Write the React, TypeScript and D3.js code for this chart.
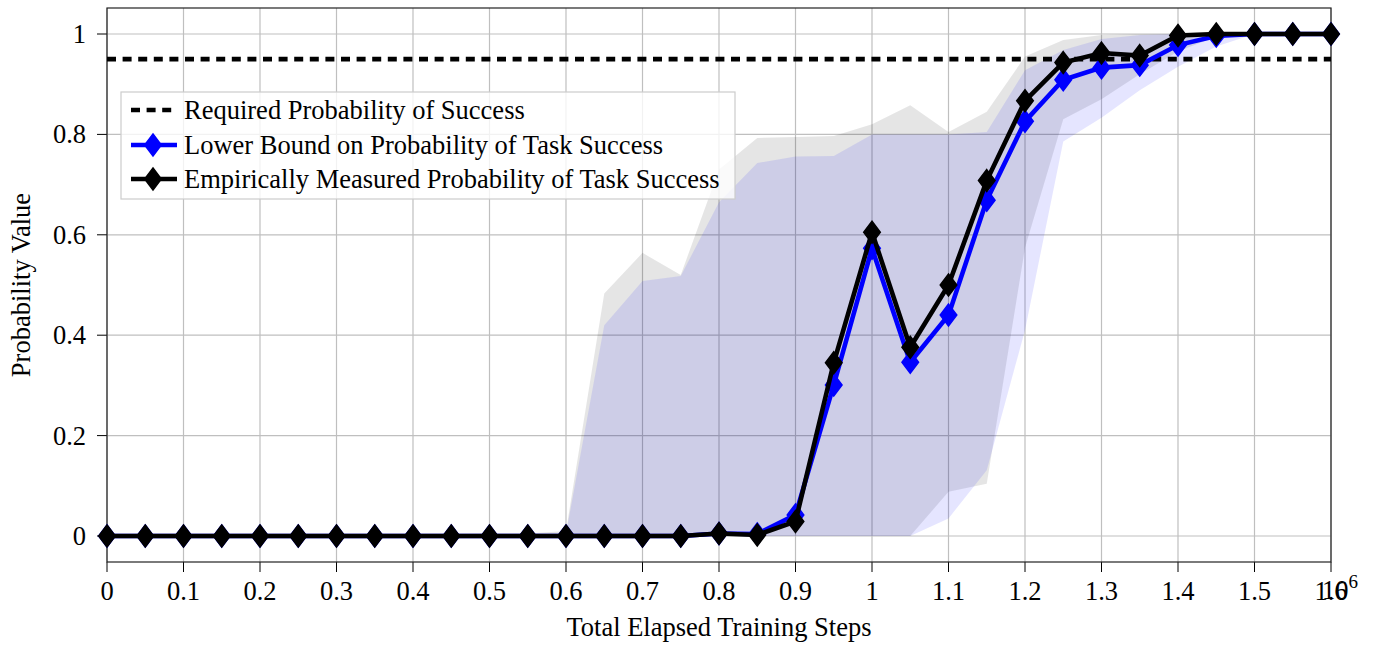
import React from "react";
import * as d3 from "d3";

// ---- data ----
const trainingSteps = [
  0, 50000, 100000, 150000, 200000, 250000, 300000, 350000, 400000, 450000,
  500000, 550000, 600000, 650000, 700000, 750000, 800000, 850000, 900000,
  950000, 1000000, 1050000, 1100000, 1150000, 1200000, 1250000, 1300000,
  1350000, 1400000, 1450000, 1500000, 1550000, 1600000,
];
const empiricalProb = [
  0, 0, 0, 0, 0, 0, 0, 0, 0, 0, 0, 0, 0, 0, 0, 0,
  0.005, 0.002, 0.029, 0.345, 0.605, 0.376, 0.5, 0.708, 0.867, 0.943, 0.962,
  0.957, 0.997, 1, 1, 1, 1,
];
const lowerBoundProb = [
  0, 0, 0, 0, 0, 0, 0, 0, 0, 0, 0, 0, 0, 0, 0, 0,
  0.005, 0.004, 0.042, 0.301, 0.573, 0.346, 0.44, 0.669, 0.826, 0.909, 0.933,
  0.938, 0.978, 0.996, 1, 1, 1,
];
const empiricalBandUpper = [
  0, 0, 0, 0, 0, 0, 0, 0, 0, 0, 0,
  0.005, 0.01, 0.483, 0.564, 0.52, 0.73, 0.793, 0.795, 0.797, 0.82, 0.858,
  0.805, 0.845, 0.955, 0.988, 0.998, 1, 1, 1, 1, 1, 1,
];
const empiricalBandLower = [
  0, 0, 0, 0, 0, 0, 0, 0, 0, 0, 0, 0, 0, 0, 0, 0, 0, 0, 0, 0, 0, 0,
  0.088, 0.104, 0.574, 0.83, 0.87, 0.92, 0.965, 0.995, 1, 1, 1,
];
const boundBandUpper = [
  0, 0, 0, 0, 0, 0, 0, 0, 0, 0, 0, 0,
  0.005, 0.42, 0.508, 0.518, 0.665, 0.743, 0.756, 0.757, 0.8, 0.8, 0.8,
  0.805, 0.928, 0.968, 0.99, 0.998, 1, 1, 1, 1, 1,
];
const boundBandLower = [
  0, 0, 0, 0, 0, 0, 0, 0, 0, 0, 0, 0, 0, 0, 0, 0, 0, 0, 0, 0, 0, 0,
  0.035, 0.131, 0.41, 0.786, 0.833, 0.888, 0.935, 0.975, 1, 1, 1,
];
const requiredProb = 0.95;
const xTickValues = [
  0, 100000, 200000, 300000, 400000, 500000, 600000, 700000, 800000, 900000,
  1000000, 1100000, 1200000, 1300000, 1400000, 1500000, 1600000,
];
const xTickLabels = [
  "0", "0.1", "0.2", "0.3", "0.4", "0.5", "0.6", "0.7", "0.8", "0.9",
  "1", "1.1", "1.2", "1.3", "1.4", "1.5", "1.6",
];
const yTickValues = [0, 0.2, 0.4, 0.6, 0.8, 1];
const yTickLabels = ["0", "0.2", "0.4", "0.6", "0.8", "1"];
const legendLabels = [
  "Required Probability of Success",
  "Lower Bound on Probability of Task Success",
  "Empirically Measured Probability of Task Success",
];

const W = 1376;
const H = 645;
const FONT = "'Liberation Serif', 'Times New Roman', serif";

export default function App() {
  const left = 107, right = 1331, top = 8, bottom = 562;
  const x = d3.scaleLinear().domain([0, 1600000]).range([left, right]);
  const y = d3.scaleLinear().domain([-0.0518, 1.0518]).range([bottom, top]);

  const idx = trainingSteps.map((_, i) => i);
  const bandArea = (lo: number[], hi: number[]) =>
    d3.area<number>()
      .x((i) => x(trainingSteps[i]))
      .y0((i) => y(lo[i]))
      .y1((i) => y(hi[i]))(idx) || "";
  const linePath = (vals: number[]) =>
    d3.line<number>()
      .x((i) => x(trainingSteps[i]))
      .y((i) => y(vals[i]))(idx) || "";

  const diamond = (cx: number, cy: number, hw = 8.3, hh = 11) =>
    `M${cx},${cy - hh}L${cx + hw},${cy}L${cx},${cy + hh}L${cx - hw},${cy}Z`;

  const series = [
    { vals: lowerBoundProb, color: "#0000ff" },
    { vals: empiricalProb, color: "#000000" },
  ];

  const gridColor = "#bfbfbf";
  const fs = 26.5;

  const legX = 121, legY = 92, legW = 614, legH = 107;
  const rowY = [110, 145, 179];

  return (
    <div style={{ position: "absolute", left: 0, top: 0 }}>
      <svg width={W} height={H} style={{ display: "block", background: "#fff" }} fontFamily={FONT}>
        {/* grid */}
        {xTickValues.map((v) => (
          <line key={"gx" + v} x1={x(v)} x2={x(v)} y1={top} y2={bottom} stroke={gridColor} strokeWidth={1.2} />
        ))}
        {yTickValues.map((v) => (
          <line key={"gy" + v} x1={left} x2={right} y1={y(v)} y2={y(v)} stroke={gridColor} strokeWidth={1.2} />
        ))}

        {/* bands */}
        <path d={bandArea(empiricalBandLower, empiricalBandUpper)} fill="#000" fillOpacity={0.1} />
        <path d={bandArea(boundBandLower, boundBandUpper)} fill="#0000ff" fillOpacity={0.1} />

        {/* ticks */}
        {xTickValues.map((v) => (
          <line key={"tx" + v} x1={x(v)} x2={x(v)} y1={bottom} y2={bottom + 10} stroke="#000" strokeWidth={1} />
        ))}
        {yTickValues.map((v) => (
          <line key={"ty" + v} x1={left - 10} x2={left} y1={y(v)} y2={y(v)} stroke="#000" strokeWidth={1} />
        ))}

        {/* frame */}
        <rect x={left} y={top} width={right - left} height={bottom - top} fill="none" stroke="#222" strokeWidth={1.2} />

        {/* required probability */}
        <line x1={x(0)} x2={x(1600000)} y1={y(requiredProb)} y2={y(requiredProb)}
          stroke="#000" strokeWidth={4.6} strokeDasharray="9 6.6" />

        {/* series */}
        {series.map((s, si) => (
          <g key={"s" + si}>
            <path d={linePath(s.vals)} fill="none" stroke={s.color} strokeWidth={4.6} strokeLinejoin="miter" />
            {idx.map((i) => (
              <path key={i} d={diamond(x(trainingSteps[i]), y(s.vals[i]))} fill={s.color} stroke={s.color} strokeWidth={1.5} />
            ))}
          </g>
        ))}

        {/* tick labels */}
        {xTickValues.map((v, i) => (
          <text key={"lx" + v} x={x(v)} y={600} textAnchor="middle" fontSize={fs} fill="#000">{xTickLabels[i]}</text>
        ))}
        <text x={1322} y={599} fontSize={fs} fill="#000">10<tspan dy={-11} fontSize={19}>6</tspan></text>
        {yTickValues.map((v, i) => (
          <text key={"ly" + v} x={86} y={y(v) + 9} textAnchor="end" fontSize={fs} fill="#000">{yTickLabels[i]}</text>
        ))}

        {/* axis labels */}
        <text x={(left + right) / 2} y={636} textAnchor="middle" fontSize={fs} fill="#000">Total Elapsed Training Steps</text>
        <text transform={`translate(30,${(top + bottom) / 2}) rotate(-90)`} textAnchor="middle" fontSize={fs} fill="#000">Probability Value</text>

        {/* legend */}
        <rect x={legX} y={legY} width={legW} height={legH} fill="#fff" fillOpacity={0.8} stroke="#cccccc" strokeWidth={1.2} />
        <line x1={131} x2={176} y1={rowY[0]} y2={rowY[0]} stroke="#000" strokeWidth={4.6} strokeDasharray="9 6.6" />
        {series.map((s, si) => (
          <g key={"leg" + si}>
            <line x1={131} x2={177} y1={rowY[si + 1]} y2={rowY[si + 1]} stroke={s.color} strokeWidth={4.6} />
            <path d={diamond(153, rowY[si + 1])} fill={s.color} stroke={s.color} strokeWidth={1.5} />
          </g>
        ))}
        {legendLabels.map((t, i) => (
          <text key={t} x={184} y={rowY[i] + 9} fontSize={fs} fill="#000">{t}</text>
        ))}
      </svg>
    </div>
  );
}
